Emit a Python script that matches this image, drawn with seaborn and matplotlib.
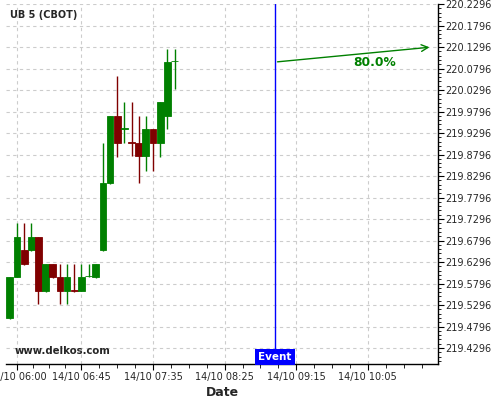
import pandas as pd
import numpy as np
import matplotlib
matplotlib.use("Agg")
import matplotlib.pyplot as plt
import matplotlib.dates as mdates
from matplotlib.ticker import FixedLocator, AutoMinorLocator
import seaborn as sns

# =========================
# DATA
# =========================
times = pd.date_range("2024-10-14 05:55", periods=24, freq="5min")
opens = [219.4994, 219.5947, 219.6575, 219.6575, 219.6877, 219.5622, 219.6249, 219.5947,
         219.5622, 219.5645, 219.5622, 219.5959, 219.5947, 219.6575, 219.8133, 219.9692,
         219.9400, 219.9087, 219.9063, 219.8761, 219.9389, 219.9063, 219.9692, 220.0959]
highs = [219.5947, 219.7203, 219.7203, 219.7203, 219.6877, 219.6249, 219.6249, 219.6249,
         219.6249, 219.6249, 219.6249, 219.6249, 219.6249, 219.9063, 219.9692, 220.0622,
         220.0017, 220.0017, 219.9692, 219.9692, 219.9389, 220.0017, 220.1249, 220.1249]
lows = [219.4970, 219.5947, 219.6226, 219.6552, 219.5319, 219.5598, 219.5924, 219.5319,
        219.5319, 219.5610, 219.5622, 219.5947, 219.5924, 219.6552, 219.8110, 219.8738,
        219.9063, 219.8761, 219.8133, 219.8412, 219.8412, 219.8738, 219.9389, 220.0319]
closes = [219.5947, 219.6877, 219.6249, 219.6877, 219.5622, 219.6249, 219.5947, 219.5622,
          219.5947, 219.5622, 219.5947, 219.5970, 219.6249, 219.8133, 219.9692, 219.9063,
          219.9412, 219.9075, 219.8761, 219.9389, 219.9063, 220.0017, 220.0947, 220.0970]

event_time = pd.Timestamp("2024-10-14 09:00")
target_time = pd.Timestamp("2024-10-14 10:50")
target_price = 220.1296
target_label = "80.0%"

xtick_times = pd.to_datetime(["2024-10-14 06:00", "2024-10-14 06:45", "2024-10-14 07:35",
                              "2024-10-14 08:25", "2024-10-14 09:15", "2024-10-14 10:05"])
yticks = [219.4296, 219.4796, 219.5296, 219.5796, 219.6296, 219.6796, 219.7296, 219.7796,
          219.8296, 219.8796, 219.9296, 219.9796, 220.0296, 220.0796, 220.1296, 220.1796,
          220.2296]

# =========================
# FIGURE
# =========================
sns.set_theme(style="white")
plt.rcParams['font.family'] = ['DejaVu Sans']

fig = plt.figure(figsize=(5, 4), dpi=100)
ax = fig.add_axes([0.012, 0.09, 0.864, 0.90])

df = pd.DataFrame({"time": times, "open": opens, "high": highs, "low": lows, "close": closes})
df["x"] = mdates.date2num(df["time"])
df["up"] = df["close"] >= df["open"]
green, red = "#008000", "#800000"
df["color"] = np.where(df["up"], green, red)

width = 4.7 / 1440
ax.vlines(df["x"], df["low"], df["high"], colors=df["color"], linewidth=1, zorder=3)
ax.bar(df["x"], df["close"] - df["open"], bottom=df["open"], width=width,
       color=df["color"], edgecolor=df["color"], linewidth=0.6, zorder=4)

# event line + label
ex = mdates.date2num(event_time)
ax.axvline(ex, color="#0000ff", linewidth=1, zorder=5)
ax.text(ex, 219.3924 + 0.005, "Event", color="white", fontsize=7.5, fontweight="bold",
        ha="center", va="bottom", zorder=6,
        bbox=dict(boxstyle="square,pad=0.3", fc="#0000ff", ec="none"))

# target arrow
last_close = closes[-1]
ax.annotate("", xy=(mdates.date2num(target_time), target_price),
            xytext=(ex, last_close - 0.0025),
            arrowprops=dict(arrowstyle="->", color=green, lw=1, mutation_scale=12), zorder=6)
ax.text(mdates.date2num(pd.Timestamp("2024-10-14 10:09:30")), 220.0924, target_label,
        color=green, fontsize=8.8, fontweight="bold", ha="center", va="center")

# axes
x0 = mdates.date2num(pd.Timestamp("2024-10-14 05:52:20"))
x1 = mdates.date2num(pd.Timestamp("2024-10-14 10:54:00"))
ax.set_xlim(x0, x1)
ax.set_ylim(219.3924, 220.2296)

xt = mdates.date2num(xtick_times)
ax.xaxis.set_major_locator(FixedLocator(xt))
ax.xaxis.set_major_formatter(mdates.DateFormatter("%d/%m %H:%M"))
minor = []
for a, b in zip(xt[:-1], xt[1:]):
    minor += list(np.linspace(a, b, 5)[1:-1])
step = (xt[-1] - xt[-2]) / 4
minor += [xt[-1] + step * k for k in range(1, 4)]
ax.xaxis.set_minor_locator(FixedLocator(minor))

ax.yaxis.tick_right()
ax.set_yticks(yticks)
ax.set_yticklabels([f"{v:.4f}" for v in yticks])
ax.yaxis.set_minor_locator(AutoMinorLocator(5))

ax.tick_params(axis="both", which="major", labelsize=7, length=4, width=0.8,
               color="black", direction="out", pad=1.5)
ax.tick_params(axis="x", which="minor", length=3, width=0.6, color="black")
ax.tick_params(axis="y", which="minor", length=2, width=0.6, color="black")
ax.tick_params(axis="x", which="both", bottom=True)
ax.tick_params(axis="y", which="both", right=True, left=False)

ax.grid(True, which="major", color="#cccccc", linestyle=(0, (3, 3)), linewidth=0.8)
ax.set_axisbelow(True)

for s in ["left", "top"]:
    ax.spines[s].set_visible(False)
for s in ["right", "bottom"]:
    ax.spines[s].set_color("black")
    ax.spines[s].set_linewidth(1)

ax.set_xlabel("Date", fontsize=9, fontweight="bold", labelpad=3)
ax.text(0.01, 0.983, "UB 5 (CBOT)", transform=ax.transAxes, fontsize=7,
        fontweight="bold", ha="left", va="top")
ax.text(0.02, 0.022, "www.delkos.com", transform=ax.transAxes, fontsize=7.3,
        fontweight="bold", ha="left", va="bottom")

plt.savefig("out.png", dpi=100)
plt.close()
